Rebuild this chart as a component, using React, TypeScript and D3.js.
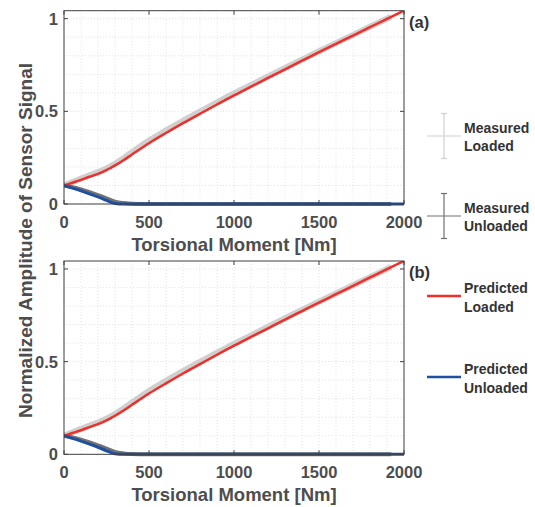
import React from 'react'
import * as d3 from 'd3'

// torque grid for the predicted curves
const torque = [0, 50, 100, 150, 200, 250, 280, 300, 350, 400, 500, 600, 700, 800, 900, 1000, 1100, 1200, 1300, 1400, 1500, 1600, 1700, 1800, 1900, 2000]
const predictedLoaded = [0.1, 0.115, 0.13, 0.147, 0.163, 0.183, 0.198, 0.208, 0.236, 0.267, 0.328, 0.383, 0.436, 0.487, 0.537, 0.586, 0.633, 0.68, 0.727, 0.773, 0.819, 0.864, 0.909, 0.954, 0.999, 1.043]
const predictedUnloaded = [0.1, 0.086, 0.071, 0.055, 0.038, 0.019, 0.008, 0.003, 0, 0, 0, 0, 0, 0, 0, 0, 0, 0, 0, 0, 0, 0, 0, 0, 0, 0]

// measured points (end a bit before 2000)
const measuredTorque = [0, 50, 100, 150, 200, 250, 300, 350, 400, 500, 600, 700, 800, 900, 1000, 1100, 1200, 1300, 1400, 1500, 1600, 1700, 1800, 1900, 1925]
const measuredLoaded = [0.1, 0.119, 0.137, 0.155, 0.172, 0.192, 0.217, 0.247, 0.28, 0.342, 0.397, 0.449, 0.499, 0.548, 0.596, 0.642, 0.688, 0.734, 0.779, 0.824, 0.868, 0.912, 0.956, 1.0, 1.011]
const measuredUnloaded = [0.1, 0.091, 0.079, 0.064, 0.048, 0.031, 0.013, 0.005, 0.001, 0, 0, 0, 0, 0, 0, 0, 0, 0, 0, 0, 0, 0, 0, 0, 0]

const xTicks = [0, 500, 1000, 1500, 2000]
const yTicks = [0, 0.5, 1]
const panelLabels = ['(a)', '(b)']

const font = 'Liberation Sans, Arial, sans-serif'
const axisColor = '#404040'
const textColor = '#4d4d4d'
const red = '#ee2f2a'
const blue = '#1f4fa0'

const x = d3.scaleLinear().domain([0, 2000]).range([64, 404])
const yBase = d3.scaleLinear().domain([0, 1.043]).range([204, 10.7])

const Panel = ({ offset, label, idx }: { offset: number; label: string; idx: number }) => {
  const y = (v: number) => yBase(v) + offset
  const top = y(1.043)
  const bottom = y(0)
  const line = d3.line<number>().x((d, i) => x(torque[i])).y(d => y(d)).curve(d3.curveMonotoneX)
  const mline = d3.line<number>().x((d, i) => x(measuredTorque[i])).y(d => y(d)).curve(d3.curveMonotoneX)
  const minorX = d3.range(0, 2001, 100)
  const minorY = d3.range(0, 1.05, 0.1)
  const clip = 'clip' + idx
  return (
    <g>
      <defs>
        <clipPath id={clip}>
          <rect x={x(0)} y={top} width={x(2000) - x(0)} height={bottom - top + 3} />
        </clipPath>
      </defs>
      <rect x={x(0)} y={top} width={x(2000) - x(0)} height={bottom - top} fill="white" />
      {minorX.map(d => (
        <line key={'gx' + d} x1={x(d)} x2={x(d)} y1={top} y2={bottom} stroke="#dcdcdc" strokeWidth={0.8} strokeDasharray="1,2" />
      ))}
      {minorY.map(d => (
        <line key={'gy' + d} x1={x(0)} x2={x(2000)} y1={y(d)} y2={y(d)} stroke="#dcdcdc" strokeWidth={0.8} strokeDasharray="1,2" />
      ))}
      <g clipPath={`url(#${clip})`}>
        <path d={mline(measuredLoaded) || ''} fill="none" stroke="#cfcfcf" strokeWidth={6} strokeLinejoin="round" />
        <path d={mline(measuredUnloaded) || ''} fill="none" stroke="#727272" strokeWidth={4} strokeLinejoin="round" />
        <path d={line(predictedLoaded) || ''} fill="none" stroke={red} strokeWidth={2.5} />
        <path d={line(predictedUnloaded) || ''} fill="none" stroke={blue} strokeWidth={3} />
      </g>
      <rect x={x(0)} y={top} width={x(2000) - x(0)} height={bottom - top} fill="none" stroke={axisColor} strokeWidth={1} />
      {xTicks.map(d => (
        <g key={'tx' + d}>
          <line x1={x(d)} x2={x(d)} y1={bottom} y2={bottom - 4} stroke={axisColor} />
          <line x1={x(d)} x2={x(d)} y1={top} y2={top + 4} stroke={axisColor} />
          <text x={x(d)} y={bottom + 24} textAnchor="middle" fontFamily={font} fontWeight="bold" fontSize={16.5} fill={textColor}>{d}</text>
        </g>
      ))}
      {yTicks.map(d => (
        <g key={'ty' + d}>
          <line x1={x(0)} x2={x(0) + 4} y1={y(d)} y2={y(d)} stroke={axisColor} />
          <line x1={x(2000)} x2={x(2000) - 4} y1={y(d)} y2={y(d)} stroke={axisColor} />
          <text x={58} y={y(d)} dy="0.36em" textAnchor="end" fontFamily={font} fontWeight="bold" fontSize={16.5} fill={textColor}>{d}</text>
        </g>
      ))}
      <text x={409} y={top + 17} fontFamily={font} fontWeight="bold" fontSize={16.5} fill="#333">{label}</text>
      <text x={234} y={bottom + 47} textAnchor="middle" fontFamily={font} fontWeight="bold" fontSize={18.5} fill={textColor}>Torsional Moment [Nm]</text>
    </g>
  )
}

const ErrLegend = ({ cy, color, lines }: { cy: number; color: string; lines: string[] }) => (
  <g>
    <line x1={427} x2={461} y1={cy} y2={cy} stroke={color} strokeWidth={1.2} />
    <line x1={444} x2={444} y1={cy - 22.5} y2={cy + 22.5} stroke={color} strokeWidth={1.2} />
    <line x1={441} x2={447} y1={cy - 22.5} y2={cy - 22.5} stroke={color} strokeWidth={1.2} />
    <line x1={441} x2={447} y1={cy + 22.5} y2={cy + 22.5} stroke={color} strokeWidth={1.2} />
    {lines.map((t, i) => (
      <text key={t} x={464} y={cy - 3 + i * 18} fontFamily={font} fontWeight="bold" fontSize={14} fill="#333">{t}</text>
    ))}
  </g>
)

const LineLegend = ({ cy, color, lines }: { cy: number; color: string; lines: string[] }) => (
  <g>
    <line x1={427} x2={461} y1={cy} y2={cy} stroke={color} strokeWidth={2.5} />
    {lines.map((t, i) => (
      <text key={t} x={464} y={cy - 3 + i * 18.5} fontFamily={font} fontWeight="bold" fontSize={14} fill="#333">{t}</text>
    ))}
  </g>
)

export default function App() {
  return (
    <svg width={535} height={507} style={{ position: 'absolute', left: 0, top: 0, background: 'white' }}>
      <Panel offset={0} label={panelLabels[0]} idx={0} />
      <Panel offset={250.3} label={panelLabels[1]} idx={1} />
      <text transform="translate(32,240.5) rotate(-90)" textAnchor="middle" fontFamily={font} fontWeight="bold" fontSize={19} fill={textColor}>
        Normalized Amplitude of Sensor Signal
      </text>
      <ErrLegend cy={136} color="#d0d0d0" lines={['Measured', 'Loaded']} />
      <ErrLegend cy={216} color="#707070" lines={['Measured', 'Unloaded']} />
      <LineLegend cy={296} color={red} lines={['Predicted', 'Loaded']} />
      <LineLegend cy={377} color={blue} lines={['Predicted', 'Unloaded']} />
    </svg>
  )
}
